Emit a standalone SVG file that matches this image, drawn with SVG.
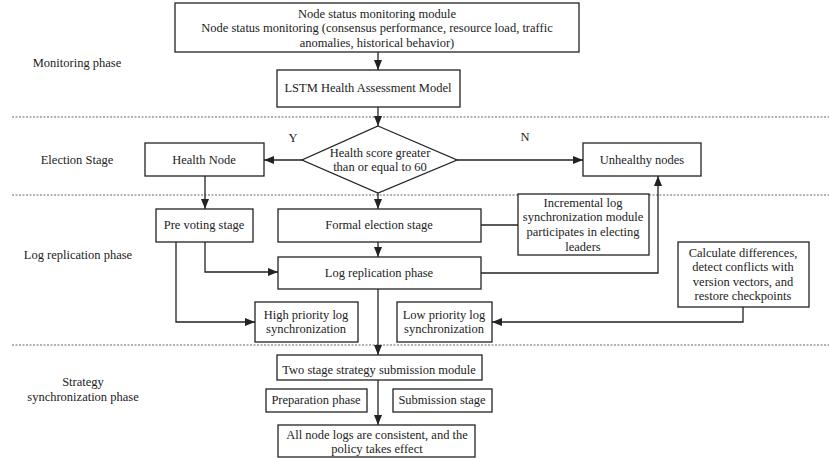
<svg xmlns="http://www.w3.org/2000/svg" width="829" height="458" viewBox="0 0 829 458">
<style>
.box{fill:#fff;stroke:#222;stroke-width:1.3}
.t{font-family:"Liberation Serif","Times New Roman",serif;font-size:12.5px;fill:#222;text-anchor:middle;dominant-baseline:central}
.c{fill:none;stroke:#222;stroke-width:1.3}
.d{fill:none;stroke:#666;stroke-width:1;stroke-dasharray:2,1.5}
</style>
<defs>
<marker id="ah" markerWidth="10" markerHeight="8" refX="10" refY="4" orient="auto" markerUnits="userSpaceOnUse">
<path d="M0,0 L10,4 L0,8 Z" fill="#222"/>
</marker>
</defs>
<rect width="829" height="458" fill="#fff"/>
<g id="dividers">
<line class="d" x1="12" y1="117" x2="829" y2="117"/>
<line class="d" x1="12" y1="195" x2="829" y2="195"/>
<line class="d" x1="12" y1="345" x2="829" y2="345"/>
</g>
<g id="phase-labels">
<text class="t" x="77" y="63">Monitoring phase</text>
<text class="t" x="77" y="160">Election Stage</text>
<text class="t" x="78" y="255">Log replication phase</text>
<text class="t" x="83" y="382">Strategy</text>
<text class="t" x="83" y="397">synchronization phase</text>
</g>
<g id="connectors">
<line class="c" x1="378" y1="52" x2="378" y2="70" marker-end="url(#ah)"/>
<line class="c" x1="378" y1="107" x2="378" y2="126" marker-end="url(#ah)"/>
<line class="c" x1="302" y1="160" x2="264" y2="160" marker-end="url(#ah)"/>
<line class="c" x1="457" y1="160" x2="583" y2="160" marker-end="url(#ah)"/>
<line class="c" x1="205" y1="176" x2="205" y2="209" marker-end="url(#ah)"/>
<line class="c" x1="378" y1="193" x2="378" y2="209" marker-end="url(#ah)"/>
<line class="c" x1="378" y1="242" x2="378" y2="257" marker-end="url(#ah)"/>
<polyline class="c" points="205,242 205,272 278,272" marker-end="url(#ah)"/>
<polyline class="c" points="176,242 176,322 255,322" marker-end="url(#ah)"/>
<line class="c" x1="481" y1="225" x2="518" y2="225"/>
<polyline class="c" points="481,273 658,273 658,176" marker-end="url(#ah)"/>
<polyline class="c" points="743,307 743,322 492,322" marker-end="url(#ah)"/>
<line class="c" x1="378" y1="289" x2="378" y2="355" marker-end="url(#ah)"/>
<line class="c" x1="378" y1="380" x2="378" y2="425" marker-end="url(#ah)"/>
<text class="t" x="293" y="138">Y</text>
<text class="t" x="525" y="137">N</text>
</g>
<g id="node-monitor">
<rect class="box" x="175" y="3" width="404" height="49"/>
<text class="t" x="377" y="14">Node status monitoring module</text>
<text class="t" x="377" y="28">Node status monitoring (consensus performance, resource load, traffic</text>
<text class="t" x="377" y="43">anomalies, historical behavior)</text>
</g>
<g id="node-lstm">
<rect class="box" x="277" y="70" width="183" height="37"/>
<text class="t" x="368" y="88">LSTM Health Assessment Model</text>
</g>
<g id="node-decision">
<polygon class="box" points="378,126 457,160 378,193 302,160"/>
<text class="t" x="380" y="153">Health score greater</text>
<text class="t" x="380" y="167">than or equal to 60</text>
</g>
<g id="node-health">
<rect class="box" x="145" y="143" width="119" height="33"/>
<text class="t" x="204" y="160">Health Node</text>
</g>
<g id="node-unhealthy">
<rect class="box" x="583" y="143" width="118" height="33"/>
<text class="t" x="642" y="160">Unhealthy nodes</text>
</g>
<g id="node-prevote">
<rect class="box" x="156" y="209" width="97" height="33"/>
<text class="t" x="204" y="225">Pre voting stage</text>
</g>
<g id="node-formal">
<rect class="box" x="278" y="209" width="203" height="33"/>
<text class="t" x="379" y="225">Formal election stage</text>
</g>
<g id="node-incremental">
<rect class="box" x="518" y="194" width="131" height="61"/>
<text class="t" x="583" y="203">Incremental log</text>
<text class="t" x="583" y="217">synchronization module</text>
<text class="t" x="583" y="232">participates in electing</text>
<text class="t" x="583" y="247">leaders</text>
</g>
<g id="node-logrep">
<rect class="box" x="278" y="257" width="203" height="32"/>
<text class="t" x="379" y="273">Log replication phase</text>
</g>
<g id="node-calc">
<rect class="box" x="678" y="242" width="131" height="65"/>
<text class="t" x="743" y="253">Calculate differences,</text>
<text class="t" x="743" y="267">detect conflicts with</text>
<text class="t" x="743" y="282">version vectors, and</text>
<text class="t" x="743" y="296">restore checkpoints</text>
</g>
<g id="node-high">
<rect class="box" x="255" y="302" width="103" height="40"/>
<text class="t" x="306" y="315">High priority log</text>
<text class="t" x="306" y="329">synchronization</text>
</g>
<g id="node-low">
<rect class="box" x="397" y="302" width="95" height="40"/>
<text class="t" x="444" y="315">Low priority log</text>
<text class="t" x="444" y="329">synchronization</text>
</g>
<g id="node-twostage">
<rect class="box" x="277" y="355" width="205" height="25"/>
<text class="t" x="379" y="370">Two stage strategy submission module</text>
</g>
<g id="node-prep">
<rect class="box" x="266" y="389" width="101" height="23"/>
<text class="t" x="316" y="400">Preparation phase</text>
</g>
<g id="node-submit">
<rect class="box" x="393" y="389" width="99" height="23"/>
<text class="t" x="442" y="400">Submission stage</text>
</g>
<g id="node-final">
<rect class="box" x="278" y="425" width="197" height="32"/>
<text class="t" x="377" y="435">All node logs are consistent, and the</text>
<text class="t" x="377" y="449">policy takes effect</text>
</g>
</svg>
